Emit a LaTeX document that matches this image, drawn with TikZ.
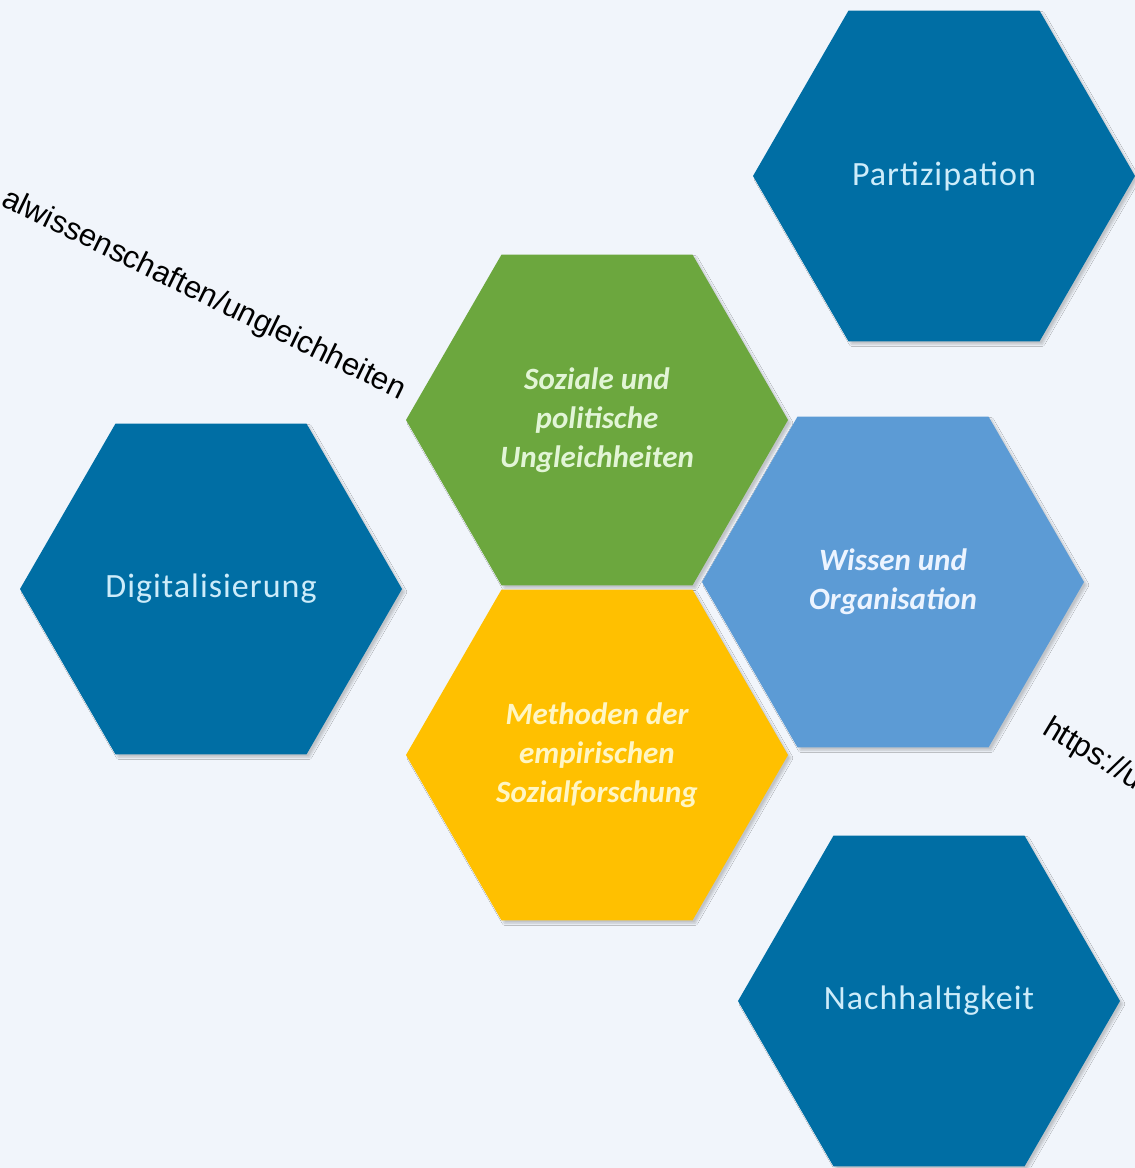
\documentclass[tikz,border=0pt]{standalone}
\usepackage{fontspec}
\setmainfont{Carlito}
\newfontfamily\linkfont{Liberation Sans}
\usetikzlibrary{shapes.geometric,shadows.blur}

\definecolor{pagebg}{RGB}{241,245,251}
\definecolor{hexdark}{RGB}{0,110,164}
\definecolor{hexgreen}{RGB}{108,167,62}
\definecolor{hexyellow}{RGB}{255,192,0}
\definecolor{hexlight}{RGB}{92,155,213}
\definecolor{txtdark}{RGB}{205,236,250}
\definecolor{txtgreen}{RGB}{226,245,214}
\definecolor{txtyellow}{RGB}{255,246,196}
\definecolor{txtlight}{RGB}{236,244,255}

\tikzset{
	hex/.style={regular polygon, regular polygon sides=6, shape border rotate=0,
		minimum size=382pt, inner sep=0pt, align=center,
		blur shadow={shadow xshift=3pt, shadow yshift=-3pt, shadow opacity=20, shadow blur steps=6}},
	outerhex/.style={hex, fill=hexdark, text=txtdark, font=\fontsize{34}{40}\selectfont\addfontfeatures{LetterSpace=3}},
	innerhex/.style={hex, font=\fontsize{31}{39}\selectfont\bfseries\itshape},
	linktext/.style={font=\linkfont\fontsize{31}{37}\selectfont, inner sep=0pt}
}

\begin{document}
\begin{tikzpicture}[x=1pt,y=-1pt]
	\useasboundingbox[fill=pagebg] (0,0) rectangle (1135,1168);
	\node[outerhex] (partizipation) at (944,176) {Partizipation};
	\node[outerhex] (digitalisierung) at (211,589) {Digitalisierung};
	\node[outerhex] (nachhaltigkeit) at (929,1001) {Nachhaltigkeit};
	\node[innerhex, fill=hexgreen, text=txtgreen] (ungleichheiten) at (597,420) {Soziale und\\politische\\Ungleichheiten};
	\node[innerhex, fill=hexyellow, text=txtyellow] (methoden) at (597,755) {Methoden der\\empirischen\\Sozialforschung};
	\node[innerhex, fill=hexlight, text=txtlight] (wissen) at (893,582) {Wissen und\\Organisation};
	\node[linktext, anchor=base east, rotate=-26] (linkleft) at (400,400) {alwissenschaften/ungleichheiten};
	\node[linktext, anchor=base west, rotate=-31] (linkright) at (1041,733) {https://uc};
\end{tikzpicture}
\end{document}
